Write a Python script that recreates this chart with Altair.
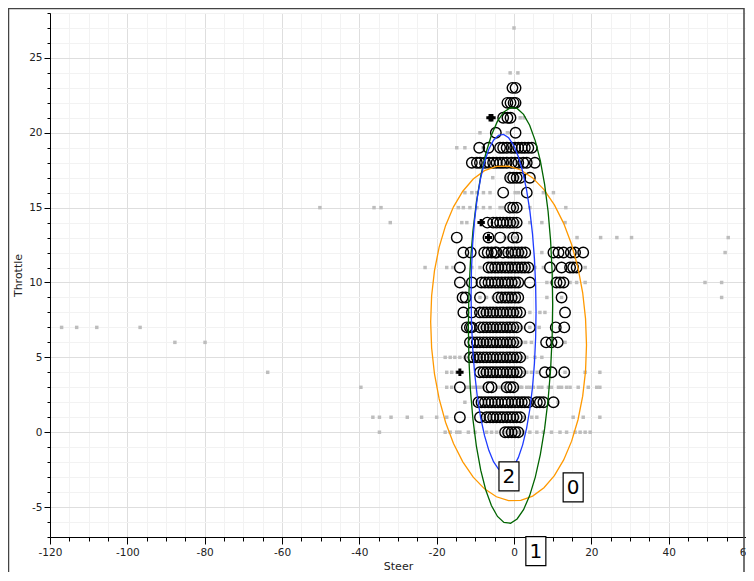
import math
import altair as alt
import pandas as pd

# ---------------- data ----------------
# gray samples: throttle -> list of steer values
gray_rows = {
    27: [0.0],
    24: [-1.0, 1.0],
    21: [1.6, 2.6],
    20: [-8.8, -1.7],
    19: [-14.8, -12.7, -8.0],
    18: [-3.2, -1.0, 0.7],
    17: [-5.5, -1.9, 0.3, 1.1],
    16: [-12.7, -10.9, -9.6, -7.9, -6.2, 0.3, 1.1, 7.6, 10.2],
    15: [-50.2, -36.2, -34.4, -14.4, -13.1, -11.4, -9.6, -7.9, -6.2, -3.6, -2.8, 0.3, 4.1, 13.4],
    14: [-32.0, -13.5, -12.2, -1.5, -0.6, 0.3, 1.1, 4.1, 7.2, 13.2],
    13: [-2.3, -1.5, 0.3, 16.3, 22.4, 26.6, 30.4, 55.4],
    12: [-3.6, -2.3, -1.0, 0.7, 1.6, 2.4, 7.2, 54.6],
    11: [-23.0, -17.4, -15.8, -10.9, -8.8, -4.5, -2.8, -1.0, 0.7, 2.4, 3.3, 5.4, 7.6, 18.4],
    10: [-3.6, -2.8, -1.0, 0.7, 8.5, 9.7, 14.5, 16.2, 18.4, 49.4, 53.7],
    9: [-8.8, -7.1, -5.4, -3.6, -2.8, -1.0, 0.7, 8.5, 12.3, 53.7],
    8: [-8.4, -7.5, -6.6, -5.8, -4.9, -4.1, -3.2, -2.3, -1.5, -0.6, 0.3, 1.1, 4.1, 6.7, 8.0],
    7: [-117.0, -113.1, -107.9, -96.7, -8.4, -7.5, -6.6, -5.8, -4.9, -4.1, -3.2, -2.3,
        -1.5, -0.6, 0.3, 1.1, 2.0, 4.1, 6.5],
    6: [-87.7, -79.9, -8.4, -7.5, -6.6, -4.9, -4.1, -3.2, -2.3, -1.5, -0.6, 0.3, 1.1,
        2.0, 3.0, 4.5, 13.2],
    5: [-17.8, -16.5, -15.3, -14.0, -12.7, -9.2, -8.4, -6.6, -5.8, -4.1, -3.2, -2.3,
        -1.5, -0.6, 0.3, 1.1, 2.0, 3.3, 5.4, 7.2],
    4: [-63.7, -17.4, -16.1, -14.8, -8.4, -7.5, -5.8, -4.9, -3.2, -2.3, -1.5, -0.6,
        0.3, 1.1, 2.5, 3.3, 4.5, 6.0, 13.2, 18.4, 22.2],
    3: [-39.6, -17.4, -16.1, -12.2, -11.4, -10.5, -9.6, -8.8, -7.9, -4.5, -3.6, -3.0,
        -2.3, 0.7, 1.6, 2.0, 3.3, 4.1, 5.0, 6.3, 7.2, 8.9, 9.7, 11.5, 12.3, 13.6,
        14.5, 16.6, 19.2, 21.4, 22.2],
    2: [-12.7, -4.5, -1.0, 0.7, 2.4, 4.5, 11.4],
    1: [-36.5, -34.8, -31.8, -27.6, -23.9, -20.0, -17.4, -8.0, -6.2, -4.1, -2.3, -0.6,
        1.1, 2.4, 4.6, 5.9, 15.3, 17.9, 22.2],
    0: [-34.8, -17.8, -16.5, -14.8, -14.0, -11.8, -10.1, -7.1, -5.8, -4.5, -2.7, -1.9,
        -1.0, -0.2, 0.7, 1.5, 2.5, 4.1, 5.9, 7.6, 9.7, 11.9, 13.6, 15.8, 17.1, 18.4, 19.7],
}

# highlighted samples (open circles): throttle -> list of steer values
circle_rows = {
    23: [-0.4, 0.4],
    22: [-1.7, -0.9, -0.1, 0.4],
    21: [-2.8, -1.7, -0.9],
    20: [-4.7, 0.4],
    19: [-9.0, -6.6, -3.6, -2.8, -1.9, -0.6, 0.3, 1.1, 2.0, 2.8, 3.7, 4.6],
    18: [-10.9, -9.6, -8.8, -7.5, -6.4, -5.4, -4.5, -3.6, -2.8, -1.9, -0.6, 0.3, 1.1,
         2.4, 3.3, 5.4],
    17: [-1.0, -0.2, 0.7, 1.6, 4.1],
    16: [-2.8, 3.3],
    15: [-1.0, -0.2, 0.7],
    14: [-6.9, -5.4, -4.5, -3.6, -2.8, -1.9, -1.0, -0.2, 0.7],
    13: [-14.8, -6.6, -3.6, -0.2, 0.7],
    12: [-13.1, -11.2, -7.7, -6.8, -5.8, -4.9, -4.5, -2.8, -1.5, -0.6, 0.3, 1.1, 2.0,
         2.9, 10.2, 11.5, 12.8, 14.7, 15.8, 17.9],
    11: [-14.0, -6.6, -5.8, -4.9, -4.1, -3.2, -2.3, -1.5, -0.6, 0.3, 1.1, 2.0, 2.8, 3.7,
         9.3, 12.3, 14.5, 15.3, 16.2],
    10: [-14.0, -10.9, -8.4, -7.5, -6.6, -5.8, -4.9, -4.1, -3.2, -2.3, -1.5, -0.6, 0.3,
         1.1, 4.1, 11.0, 11.9, 12.8],
    9: [-13.3, -12.5, -8.8, -4.1, -3.2, -2.3, -1.5, -0.6, 0.3, 1.1, 12.3],
    8: [-13.1, -10.9, -8.8, -7.9, -7.1, -6.2, -5.4, -4.5, -3.6, -2.8, -1.9, -1.0, -0.2,
        0.7, 1.6, 13.2],
    7: [-12.2, -11.4, -10.9, -8.8, -7.9, -7.1, -6.2, -5.4, -4.5, -3.6, -2.8, -1.9,
        -1.0, -0.2, 0.7, 4.1, 10.8, 13.0],
    6: [-11.4, -10.5, -9.6, -8.8, -7.9, -7.1, -6.2, -5.4, -4.5, -3.6, -2.8, -1.9, -1.0,
        -0.2, 0.7, 8.3, 9.7, 11.3],
    5: [-11.4, -10.5, -9.6, -8.8, -7.9, -7.1, -6.2, -5.4, -4.5, -3.6, -2.8, -1.9, -1.0,
        -0.2, 0.7, 1.6],
    4: [-8.8, -7.9, -7.1, -6.2, -5.4, -4.5, -3.6, -2.8, -1.9, -1.0, -0.2, 0.7, 1.6,
        8.0, 9.7, 13.0],
    3: [-14.0, -6.6, -5.8, -1.9, -1.0, -0.2],
    2: [-9.2, -8.4, -7.5, -6.6, -5.8, -4.9, -4.1, -3.2, -2.3, -1.5, -0.6, 0.3, 1.1, 2.0,
        2.8, 3.7, 5.9, 6.7, 7.6, 10.2],
    1: [-14.0, -8.8, -7.1, -6.2, -5.4, -4.5, -3.6, -2.8, -1.9, -1.0, -0.2, 0.7, 1.6],
    0: [-2.3, -1.5, -0.6, 0.3, 1.1],
}

# plus markers
plus_steer = [-6.2, -5.7, -8.5, -6.6, -14.0]
plus_throttle = [21, 21, 14, 13, 4]

# cluster ellipses (centre, half extents, covariance-like term)
ell_cluster = ["0", "1", "2"]
ell_center_s = [-1.4, -0.9, -2.7]
ell_center_t = [6.6, 7.8, 8.6]
ell_half_w = [20.15, 10.9, 8.4]
ell_half_h = [11.2, 13.9, 11.3]
ell_cov = [-15.7, 8.0, -4.5]
ell_colors = ["#ff9900", "#006400", "#1f3cff"]

# boxed cluster labels
label_text = ["0", "1", "2"]
label_s = [15.3, 5.65, -1.3]
label_t = [-3.68, -7.95, -2.95]

# ---------------- tables ----------------
gray_df = pd.DataFrame(
    [{"Steer": s, "Throttle": t} for t, ss in gray_rows.items() for s in ss])
circ_df = pd.DataFrame(
    [{"Steer": s, "Throttle": t} for t, ss in circle_rows.items() for s in ss])
plus_df = pd.DataFrame({"Steer": plus_steer, "Throttle": plus_throttle})

N = 40
ell_recs = []
for k, c in enumerate(ell_cluster):
    hw, hh, cv = ell_half_w[k], ell_half_h[k], ell_cov[k]
    l21 = cv / hw
    l22 = math.sqrt(hh * hh - l21 * l21)
    for i in range(N + 1):
        a = 2 * math.pi * i / N
        ell_recs.append({
            "cluster": c, "i": i,
            "Steer": ell_center_s[k] + hw * math.cos(a),
            "Throttle": ell_center_t[k] + l21 * math.cos(a) + l22 * math.sin(a),
        })
ell_df = pd.DataFrame(ell_recs)
lab_df = pd.DataFrame({"lab": label_text, "Steer": label_s, "Throttle": label_t})

# ---------------- scales / axes ----------------
FONT = "DejaVu Sans"
xs = alt.Scale(domain=[-120, 60], nice=False, zero=False)
ys = alt.Scale(domain=[-7, 28], nice=False, zero=False)

xaxis = alt.Axis(
    values=list(range(-120, 61, 5)),
    labelExpr="datum.value % 20 === 0 ? '' + datum.value : ''",
    title="Steer", labelFlush=False, labelOverlap=False,
    gridColor={"condition": {"test": "datum.value % 20 === 0", "value": "#dedede"},
               "value": "#f2f2f2"},
    tickSize={"condition": {"test": "datum.value % 20 === 0", "value": 7}, "value": 4},
    labelPadding=3, titlePadding=3,
)
yaxis = alt.Axis(
    values=list(range(-7, 29)),
    labelExpr="datum.value % 5 === 0 ? '' + datum.value : ''",
    title="Throttle", labelFlush=False, labelOverlap=False,
    gridColor={"condition": {"test": "datum.value % 5 === 0", "value": "#dedede"},
               "value": "#f2f2f2"},
    tickSize={"condition": {"test": "datum.value % 5 === 0", "value": 6}, "value": 3},
    labelPadding=2, titlePadding=5,
)

X = alt.X("Steer:Q", scale=xs, axis=xaxis)
Y = alt.Y("Throttle:Q", scale=ys, axis=yaxis)

frame = alt.Chart(pd.DataFrame({"a": [0]})).mark_rect(
    fillOpacity=0, stroke="#444444", strokeWidth=1.5
).encode(x=alt.value(-41.5), x2=alt.value(694), y=alt.value(-4.5), y2=alt.value(700))

gray = alt.Chart(gray_df).mark_square(size=12, color="#bdbdbd", opacity=1).encode(x=X, y=Y)

circles = alt.Chart(circ_df).mark_point(
    shape="circle", size=110, filled=False, stroke="#000000", strokeWidth=1.4, opacity=1
).encode(x=X, y=Y)

plus = alt.Chart(plus_df).mark_point(
    shape="cross", size=55, filled=True, color="#000000", opacity=1
).encode(x=X, y=Y)

ellipses = alt.Chart(ell_df).mark_line(strokeWidth=1.3).encode(
    x=X, y=Y,
    color=alt.Color("cluster:N", scale=alt.Scale(domain=ell_cluster, range=ell_colors),
                    legend=None),
    order="i:Q",
)

boxes = alt.Chart(lab_df).mark_point(
    shape="M-0.69,-1H0.69V1H-0.69Z", size=841, filled=True, fill="white",
    stroke="black", strokeWidth=1.2, opacity=1
).encode(x=X, y=Y)

texts = alt.Chart(lab_df).mark_text(
    font=FONT, fontSize=20, color="black", align="center", baseline="middle", dy=1
).encode(x=X, y=Y, text="lab:N")

chart = alt.layer(frame, gray, circles, plus, ellipses, boxes, texts).properties(
    width=696, height=524,
    autosize=alt.AutoSizeParams(type="none"),
    padding={"left": 42, "top": 5, "right": 0, "bottom": 35},
).configure_view(stroke="#333333", strokeWidth=1).configure_axis(
    labelFont=FONT, labelFontSize=10.5, labelColor="#222222",
    titleFont=FONT, titleFontSize=11, titleFontWeight="normal", titleColor="#222222",
    domainColor="#000000", tickColor="#000000", gridWidth=1,
)

chart.save("out.html", embed_options={"renderer": "svg", "actions": False})
